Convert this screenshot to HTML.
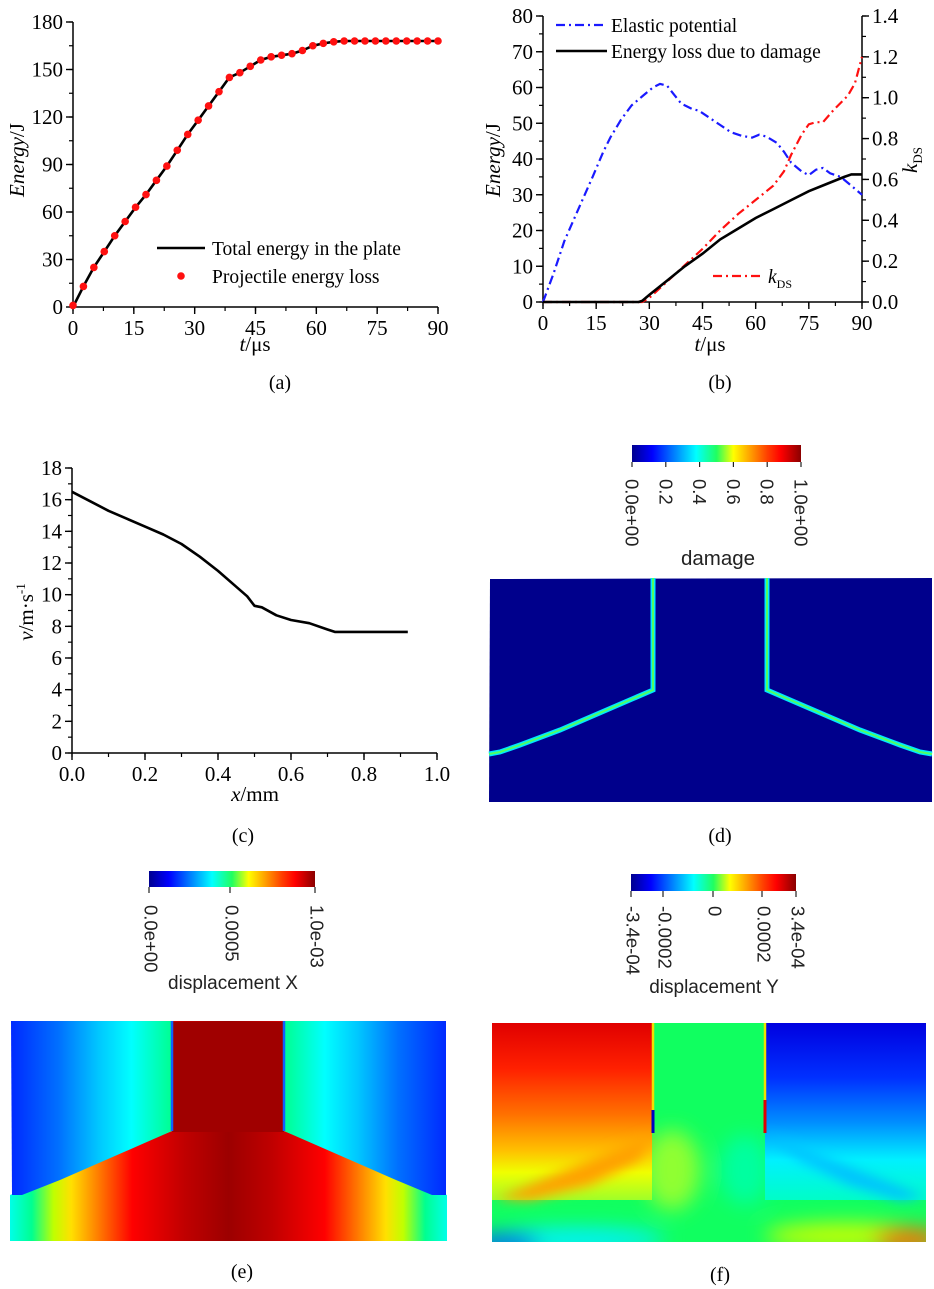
<!DOCTYPE html>
<html><head><meta charset="utf-8">
<style>
html,body{margin:0;padding:0;background:#fff;}
svg{display:block;}
.serif{font-family:"Liberation Serif","DejaVu Serif",serif;}
.sans{font-family:"Liberation Sans","DejaVu Sans",sans-serif;}
</style></head>
<body>
<svg id="fig" width="934" height="1289" viewBox="0 0 934 1289" xmlns="http://www.w3.org/2000/svg">
<defs>
<linearGradient id="jet" x1="0" x2="1" y1="0" y2="0">
<stop offset="0" stop-color="#00008f"/><stop offset="0.12" stop-color="#0000ff"/><stop offset="0.38" stop-color="#00ffff"/><stop offset="0.5" stop-color="#20ff60"/><stop offset="0.6" stop-color="#ffff00"/><stop offset="0.8" stop-color="#ff4000"/><stop offset="0.88" stop-color="#ff0000"/><stop offset="1" stop-color="#8a0000"/>
</linearGradient>
<linearGradient id="eUL" gradientUnits="userSpaceOnUse" x1="10" x2="172" y1="0" y2="0">
<stop offset="0" stop-color="#0028ff"/><stop offset="0.3" stop-color="#0070ff"/><stop offset="0.55" stop-color="#00c8ff"/><stop offset="0.75" stop-color="#00ffff"/><stop offset="1" stop-color="#00ff90"/>
</linearGradient>
<linearGradient id="eUR" gradientUnits="userSpaceOnUse" x1="447" x2="284" y1="0" y2="0">
<stop offset="0" stop-color="#0028ff"/><stop offset="0.3" stop-color="#0070ff"/><stop offset="0.55" stop-color="#00c8ff"/><stop offset="0.75" stop-color="#00ffff"/><stop offset="1" stop-color="#00ff90"/>
</linearGradient>
<linearGradient id="eB" gradientUnits="userSpaceOnUse" x1="10" x2="447" y1="0" y2="0">
<stop offset="0" stop-color="#00ffe8"/><stop offset="0.05" stop-color="#00ff90"/><stop offset="0.1" stop-color="#c0ff00"/><stop offset="0.14" stop-color="#ffe000"/><stop offset="0.2" stop-color="#ff8000"/><stop offset="0.28" stop-color="#ff0000"/><stop offset="0.4" stop-color="#c00000"/><stop offset="0.5" stop-color="#9c0000"/><stop offset="0.6" stop-color="#c00000"/><stop offset="0.72" stop-color="#ff0000"/><stop offset="0.8" stop-color="#ff8000"/><stop offset="0.86" stop-color="#ffe000"/><stop offset="0.9" stop-color="#c0ff00"/><stop offset="0.95" stop-color="#00ff90"/><stop offset="1" stop-color="#00ffe8"/>
</linearGradient>
<linearGradient id="fUL" gradientUnits="userSpaceOnUse" x1="0" x2="0" y1="1023" y2="1205">
<stop offset="0" stop-color="#e00000"/><stop offset="0.25" stop-color="#ff2000"/><stop offset="0.5" stop-color="#ff7000"/><stop offset="0.7" stop-color="#ffc000"/><stop offset="0.82" stop-color="#f0ff00"/><stop offset="1" stop-color="#90ff30"/>
</linearGradient>
<linearGradient id="fUR" gradientUnits="userSpaceOnUse" x1="0" x2="0" y1="1023" y2="1205">
<stop offset="0" stop-color="#0000e0"/><stop offset="0.3" stop-color="#0030ff"/><stop offset="0.55" stop-color="#0090ff"/><stop offset="0.75" stop-color="#00f0ff"/><stop offset="1" stop-color="#00ffc0"/>
</linearGradient>
<filter id="blur" x="-50%" y="-50%" width="200%" height="200%"><feGaussianBlur stdDeviation="10"/></filter>
<filter id="blur2" x="-50%" y="-50%" width="200%" height="200%"><feGaussianBlur stdDeviation="6"/></filter>
<clipPath id="fclip"><rect x="492" y="1023" width="434" height="219"/></clipPath>
</defs>
<g id="pa"></g>
<g id="pb"></g>
<g id="pc"></g>

<!-- panel d -->
<g>
<rect x="632" y="445" width="169" height="17" fill="url(#jet)"/>
<g class="sans" font-size="18.5" fill="#222">
<g stroke="#222" stroke-width="1.2"><line x1="632" y1="462" x2="632" y2="467"/><line x1="665.8" y1="462" x2="665.8" y2="467"/><line x1="699.6" y1="462" x2="699.6" y2="467"/><line x1="733.4" y1="462" x2="733.4" y2="467"/><line x1="767.2" y1="462" x2="767.2" y2="467"/><line x1="801" y1="462" x2="801" y2="467"/></g>
<text transform="translate(632,479) rotate(90)" dominant-baseline="central">0.0e+00</text>
<text transform="translate(665.8,479) rotate(90)" dominant-baseline="central">0.2</text>
<text transform="translate(699.6,479) rotate(90)" dominant-baseline="central">0.4</text>
<text transform="translate(733.4,479) rotate(90)" dominant-baseline="central">0.6</text>
<text transform="translate(767.2,479) rotate(90)" dominant-baseline="central">0.8</text>
<text transform="translate(801,479) rotate(90)" dominant-baseline="central">1.0e+00</text>
<text x="718" y="565" text-anchor="middle" font-size="20.5">damage</text>
</g>
<polygon points="490,579 932,578 932,802 489,802" fill="#00008c"/>
<polyline points="653,578 653,690 560,730 520,745 500,752 489,754" fill="none" stroke="#00e8ff" stroke-width="5"/>
<polyline points="653,578 653,690 560,730 520,745 500,752 489,754" fill="none" stroke="#50ff60" stroke-width="2"/>
<polyline points="767,578 767,690 860,730 900,745 920,752 932,754" fill="none" stroke="#00e8ff" stroke-width="5"/>
<polyline points="767,578 767,690 860,730 900,745 920,752 932,754" fill="none" stroke="#50ff60" stroke-width="2"/>
<text class="serif" x="720" y="842" text-anchor="middle" font-size="20">(d)</text>
</g>

<!-- panel e -->
<g>
<rect x="149" y="871" width="166" height="16" fill="url(#jet)"/>
<g class="sans" font-size="18.5" fill="#222">
<g stroke="#222" stroke-width="1.2"><line x1="149" y1="887" x2="149" y2="893"/><line x1="230" y1="887" x2="230" y2="893"/><line x1="315" y1="887" x2="315" y2="893"/></g>
<text transform="translate(151,905) rotate(90)" dominant-baseline="central">0.0e+00</text>
<text transform="translate(232,905) rotate(90)" dominant-baseline="central">0.0005</text>
<text transform="translate(317,905) rotate(90)" dominant-baseline="central">1.0e-03</text>
<text x="233" y="989" text-anchor="middle" font-size="19">displacement X</text>
</g>
<polygon points="10,1195 172,1131 172,1021 284,1021 284,1131 447,1195 447,1241 10,1241" fill="url(#eB)"/>
<rect x="172" y="1022" width="112" height="110" fill="#a00000"/>
<polygon points="11,1021 172,1021 172,1131 60,1180 22,1195 12,1195" fill="url(#eUL)"/>
<polygon points="284,1021 446,1021 446,1195 432,1195 396,1180 284,1131" fill="url(#eUR)"/>
<line x1="172" y1="1021" x2="172" y2="1131" stroke="#1060ff" stroke-width="2.5"/>
<line x1="284" y1="1021" x2="284" y2="1131" stroke="#1060ff" stroke-width="2.5"/>
<text class="serif" x="242" y="1278" text-anchor="middle" font-size="20">(e)</text>
</g>

<!-- panel f -->
<g>
<rect x="631" y="874" width="165" height="17" fill="url(#jet)"/>
<g class="sans" font-size="18.5" fill="#222">
<g stroke="#222" stroke-width="1.2"><line x1="631" y1="891" x2="631" y2="897"/><line x1="663" y1="891" x2="663" y2="897"/><line x1="713" y1="891" x2="713" y2="897"/><line x1="762" y1="891" x2="762" y2="897"/><line x1="796" y1="891" x2="796" y2="897"/></g>
<text transform="translate(633,906) rotate(90)" dominant-baseline="central">-3.4e-04</text>
<text transform="translate(665,906) rotate(90)" dominant-baseline="central">-0.0002</text>
<text transform="translate(715,906) rotate(90)" dominant-baseline="central">0</text>
<text transform="translate(764,906) rotate(90)" dominant-baseline="central">0.0002</text>
<text transform="translate(798,906) rotate(90)" dominant-baseline="central">3.4e-04</text>
<text x="714" y="993" text-anchor="middle" font-size="19">displacement Y</text>
</g>
<g clip-path="url(#fclip)">
<rect x="492" y="1023" width="434" height="219" fill="#10ff60"/>
<g filter="url(#blur)">
<ellipse cx="672" cy="1170" rx="28" ry="40" fill="#90ff30"/>
<ellipse cx="745" cy="1170" rx="25" ry="35" fill="#00ffa0"/>
<ellipse cx="575" cy="1240" rx="90" ry="12" fill="#00f0ff"/>
<ellipse cx="505" cy="1244" rx="35" ry="10" fill="#0060ff"/>
<ellipse cx="845" cy="1236" rx="80" ry="13" fill="#c8ff00"/>
<ellipse cx="908" cy="1240" rx="35" ry="12" fill="#ff7000"/>
</g>
<rect x="492" y="1023" width="160" height="177" fill="url(#fUL)"/>
<rect x="765" y="1023" width="161" height="177" fill="url(#fUR)"/>
<g filter="url(#blur2)">
<polygon points="495,1199 652,1134 640,1160 590,1185 530,1200" fill="#ffa000"/>
<polygon points="765,1134 926,1197 900,1200 850,1185 800,1160" fill="#00c0ff"/>
</g>
</g>
<line x1="653" y1="1023" x2="653" y2="1133" stroke="#f0e000" stroke-width="2.5"/>
<line x1="653" y1="1110" x2="653" y2="1133" stroke="#0000c0" stroke-width="3"/>
<line x1="765" y1="1023" x2="765" y2="1133" stroke="#f0e000" stroke-width="2.5"/>
<line x1="765" y1="1100" x2="765" y2="1133" stroke="#e00000" stroke-width="3"/>
<text class="serif" x="720" y="1281" text-anchor="middle" font-size="20">(f)</text>
</g>
</svg>
<script>
// ---------- Panel (a) data ----------
const aTime = [0,2.57,5.14,7.71,10.29,12.86,15.43,18,20.57,23.14,25.71,28.29,30.86,33.43,36,38.57,41.14,43.71,46.29,48.86,51.43,54,56.57,59.14,61.71,64.29,66.86,69.43,72,74.57,77.14,79.71,82.29,84.86,87.43,90];
const aTotalEnergy = [0,13,25,35,45,54,63,71,80,89,99,109,118,127,136,145,148,152,156,158,159,160,162,165,166.5,167.5,168,168,168,168,168,168,168,168,168,168];
const aProjectileLoss = [1,13,25,35,45,54,63,71,80,89,99,109,118,127,136,145,148,152,156,158,159,160,162,165,166.5,167.5,168,168,168,168,168,168,168,168,168,168];
const aXTicks = [0,15,30,45,60,75,90];
const aYTicks = [0,30,60,90,120,150,180];

// ---------- Panel (b) data ----------
const bElasticT = [0,3,6,10,14,17,19,22,25,28,31,33,35,37,39,42,44,47,50,53,56,59,61,63,66,68,70,73,75,77,79,81,84,87,90];
const bElastic = [0,8,17,26,35,42,46,51,55,57.5,60,61,60.5,58,55.5,54,53.5,51.5,49.5,47.5,46.5,46,46.8,46.3,44.5,42,39,36.5,35.5,37,37.5,36,35,32.5,30];
const bDamageT = [0,27,28,30,35,40,45,50,55,60,65,70,75,80,85,87,90];
const bDamage = [0,0,0.3,2,6,10,13.5,17.5,20.5,23.5,26,28.5,31,33,35,35.7,35.7];
const bKdsT = [0,28,30,35,40,45,50,55,60,65,68,70,73,75,77,79,82,86,88,90];
const bKds = [0,0,0.02,0.1,0.18,0.26,0.35,0.43,0.5,0.57,0.64,0.72,0.82,0.87,0.88,0.88,0.94,1.01,1.07,1.2];
const bXTicks = [0,15,30,45,60,75,90];
const bYTicks = [0,10,20,30,40,50,60,70,80];
const bKTicks = ["0.0","0.2","0.4","0.6","0.8","1.0","1.2","1.4"];

// ---------- Panel (c) data ----------
const cX = [0,0.05,0.1,0.15,0.2,0.25,0.3,0.35,0.4,0.45,0.48,0.5,0.52,0.56,0.6,0.65,0.7,0.72,0.8,0.92];
const cV = [16.5,15.9,15.3,14.8,14.3,13.8,13.2,12.4,11.5,10.5,9.9,9.3,9.2,8.7,8.4,8.2,7.8,7.65,7.65,7.65];
const cXTicks = ["0.0","0.2","0.4","0.6","0.8","1.0"];
const cYTicks = [0,2,4,6,8,10,12,14,16,18];

const NS = "http://www.w3.org/2000/svg";
function mk(parent, tag, attrs, text){
  const e = document.createElementNS(NS, tag);
  for (const k in attrs) e.setAttribute(k, attrs[k]);
  if (text !== undefined) e.textContent = text;
  parent.appendChild(e);
  return e;
}
function lin(d0,d1,r0,r1){ return v => r0 + (v-d0)/(d1-d0)*(r1-r0); }
function pathOf(xs, ys, sx, sy){ return xs.map((v,i)=>(i?"L":"M")+sx(v).toFixed(1)+","+sy(ys[i]).toFixed(1)).join(""); }

function axisX(g, sx, y0, ticks, minorStep, labels, name){
  const x0 = sx(Number(ticks[0])), x1 = sx(Number(ticks[ticks.length-1]));
  const ax = mk(g,"line",{x1:x0,x2:x1,y1:y0,y2:y0,stroke:"#000","stroke-width":1.5});
  
  
  const lo = Number(ticks[0]), hi = Number(ticks[ticks.length-1]);
  for (let v = lo; v <= hi + 1e-9; v += minorStep){
    mk(g,"line",{x1:sx(v),x2:sx(v),y1:y0,y2:y0+4,stroke:"#000","stroke-width":1.2});
  }
  ticks.forEach((t,i)=>{
    mk(g,"line",{x1:sx(Number(t)),x2:sx(Number(t)),y1:y0,y2:y0+7,stroke:"#000","stroke-width":1.4});
    const tx = mk(g,"text",{x:sx(Number(t)),y:y0+28,"text-anchor":"middle","font-size":21,class:"serif"}, labels ? labels[i] : String(t));
    
    
  });
}
function axisY(g, sy, x0, ticks, minorStep, labels, name, side){
  const dir = side === "right" ? 1 : -1;
  const y0 = sy(Number(ticks[0])), y1 = sy(Number(ticks[ticks.length-1]));
  const ax = mk(g,"line",{x1:x0,x2:x0,y1:y0,y2:y1,stroke:"#000","stroke-width":1.5});
  
  
  const lo = Number(ticks[0]), hi = Number(ticks[ticks.length-1]);
  for (let v = lo; v <= hi + 1e-9; v += minorStep){
    mk(g,"line",{x1:x0,x2:x0+dir*4,y1:sy(v),y2:sy(v),stroke:"#000","stroke-width":1.2});
  }
  ticks.forEach((t,i)=>{
    mk(g,"line",{x1:x0,x2:x0+dir*7,y1:sy(Number(t)),y2:sy(Number(t)),stroke:"#000","stroke-width":1.4});
    const tx = mk(g,"text",{x:x0+dir*10,y:sy(Number(t))+7,"text-anchor":side==="right"?"start":"end","font-size":21,class:"serif"}, labels ? labels[i] : String(t));
    
    
  });
}

// ---------- Panel (a) ----------
(function(){
  const g = document.getElementById("pa");
  const sx = lin(0,90,73,438), sy = lin(0,180,307,22);
  axisY(g, sy, 73, aYTicks, 15, null, "a-y", "left");
  axisX(g, sx, 307, aXTicks, 7.5, null, "a");
  const ln = mk(g,"path",{d:pathOf(aTime,aTotalEnergy,sx,sy),fill:"none",stroke:"#000","stroke-width":2.6,"stroke-linejoin":"round"});
  
  
  aTime.forEach((t,i)=>{
    const c = mk(g,"circle",{cx:sx(t),cy:sy(aProjectileLoss[i]),r:3.8,fill:"#ff1010"});
    
    
  });
  const yt = mk(g,"text",{transform:"translate(24,160) rotate(-90)","text-anchor":"middle","font-size":21,class:"serif"});
  
  
  mk(yt,"tspan",{"font-style":"italic"},"Energy"); mk(yt,"tspan",{},"/J");
  const xt = mk(g,"text",{x:255,y:351,"text-anchor":"middle","font-size":21,class:"serif"});
  
  
  mk(xt,"tspan",{"font-style":"italic"},"t"); mk(xt,"tspan",{},"/μs");
  const l1 = mk(g,"line",{x1:157,x2:205,y1:248,y2:248,stroke:"#000","stroke-width":2.6});
  
  
  const t1 = mk(g,"text",{x:212,y:255,"font-size":19.5,class:"serif"},"Total energy in the plate");
  
  
  const d1 = mk(g,"circle",{cx:181,cy:276,r:3.8,fill:"#ff1010"});
  
  
  const t2 = mk(g,"text",{x:212,y:283,"font-size":19.5,class:"serif"},"Projectile energy loss");
  
  
  const cap = mk(g,"text",{x:280,y:389,"text-anchor":"middle","font-size":20,class:"serif"},"(a)");
  
  
})();

// ---------- Panel (b) ----------
(function(){
  const g = document.getElementById("pb");
  const sx = lin(0,90,543,862), sy = lin(0,80,302,16), sk = lin(0,1.4,302,16);
  axisY(g, sy, 543, bYTicks, 5, null, "b-y", "left");
  axisY(g, sk, 862, bKTicks, 0.1, null, "b-kds", "right");
  axisX(g, sx, 302, bXTicks, 7.5, null, "b");
  const e = mk(g,"path",{d:pathOf(bElasticT,bElastic,sx,sy),fill:"none",stroke:"#1a1aff","stroke-width":2.2,"stroke-dasharray":"9,4,2,4"});
  
  
  const k = mk(g,"path",{d:pathOf(bKdsT,bKds,sx,sk),fill:"none",stroke:"#ff1010","stroke-width":2.2,"stroke-dasharray":"9,4,2,4"});
  
  
  const d = mk(g,"path",{d:pathOf(bDamageT,bDamage,sx,sy),fill:"none",stroke:"#000","stroke-width":2.6});
  
  
  const yt = mk(g,"text",{transform:"translate(500,160) rotate(-90)","text-anchor":"middle","font-size":21,class:"serif"});
  
  
  mk(yt,"tspan",{"font-style":"italic"},"Energy"); mk(yt,"tspan",{},"/J");
  const rt = mk(g,"text",{transform:"translate(917,160) rotate(-90)","text-anchor":"middle","font-size":21,class:"serif"});
  
  
  mk(rt,"tspan",{"font-style":"italic"},"k"); mk(rt,"tspan",{"font-size":13,dy:5},"DS");
  const xt = mk(g,"text",{x:710,y:351,"text-anchor":"middle","font-size":21,class:"serif"});
  
  
  mk(xt,"tspan",{"font-style":"italic"},"t"); mk(xt,"tspan",{},"/μs");
  const s1 = mk(g,"line",{x1:556,x2:607,y1:25,y2:25,stroke:"#1a1aff","stroke-width":2.2,"stroke-dasharray":"9,4,2,4"});
  
  
  const t1 = mk(g,"text",{x:611,y:32,"font-size":19.5,class:"serif"},"Elastic potential");
  
  
  const s2 = mk(g,"line",{x1:556,x2:607,y1:51,y2:51,stroke:"#000","stroke-width":2.6});
  
  
  const t2 = mk(g,"text",{x:611,y:58,"font-size":19.5,class:"serif"},"Energy loss due to damage");
  
  
  const s3 = mk(g,"line",{x1:713,x2:762,y1:276,y2:276,stroke:"#ff1010","stroke-width":2.2,"stroke-dasharray":"9,4,2,4"});
  
  
  const t3 = mk(g,"text",{x:768,y:283,"font-size":19.5,class:"serif"});
  
  
  mk(t3,"tspan",{"font-style":"italic"},"k"); mk(t3,"tspan",{"font-size":12,dy:5},"DS");
  const cap = mk(g,"text",{x:720,y:389,"text-anchor":"middle","font-size":20,class:"serif"},"(b)");
  
  
})();

// ---------- Panel (c) ----------
(function(){
  const g = document.getElementById("pc");
  const sx = lin(0,1,72,437), sy = lin(0,18,753,468);
  axisY(g, sy, 72, cYTicks, 1, null, "c-y", "left");
  axisX(g, sx, 753, cXTicks, 0.1, null, "c");
  const l = mk(g,"path",{d:pathOf(cX,cV,sx,sy),fill:"none",stroke:"#000","stroke-width":2.6,"stroke-linejoin":"round"});
  
  
  const yt = mk(g,"text",{transform:"translate(33,612) rotate(-90)","text-anchor":"middle","font-size":21,class:"serif"});
  
  
  mk(yt,"tspan",{"font-style":"italic"},"v"); mk(yt,"tspan",{},"/m·s"); mk(yt,"tspan",{"font-size":13,dy:-8},"-1");
  const xt = mk(g,"text",{x:255,y:801,"text-anchor":"middle","font-size":21,class:"serif"});
  
  
  mk(xt,"tspan",{"font-style":"italic"},"x"); mk(xt,"tspan",{},"/mm");
  const cap = mk(g,"text",{x:243,y:842,"text-anchor":"middle","font-size":20,class:"serif"},"(c)");
  
  
})();
</script>
</body></html>
